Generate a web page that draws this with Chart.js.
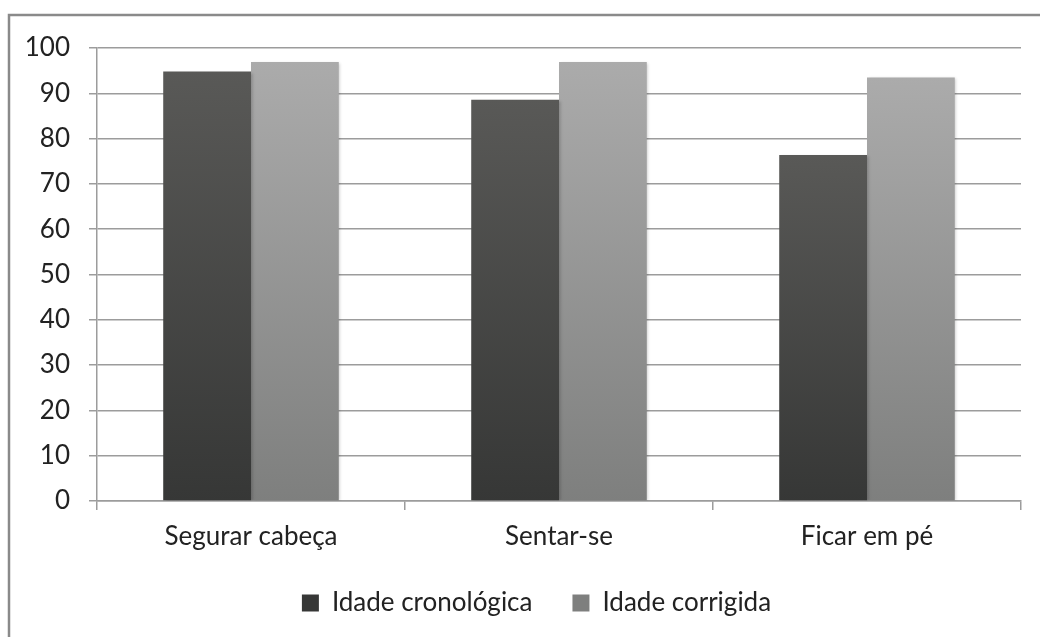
<!DOCTYPE html>
<html>
<head>
<meta charset="utf-8">
<script src="https://cdn.jsdelivr.net/npm/chart.js@4/dist/chart.umd.min.js"></script>
<style>
html,body{margin:0;padding:0;background:#fff;}
#wrap{position:relative;width:1040px;height:637px;}
canvas{display:block;}
</style>
</head>
<body>
<div id="wrap"><canvas id="c" width="1040" height="637"></canvas></div>
<script>
const categories = ["Segurar cabeça", "Sentar-se", "Ficar em pé"];
const seriesNames = ["Idade cronológica", "Idade corrigida"];
const cronologica = [94.8, 88.6, 76.4];
const corrigida = [96.9, 96.9, 93.5];
const yTicks = [0, 10, 20, 30, 40, 50, 60, 70, 80, 90, 100];

const FONT = "Lato, 'Open Sans', sans-serif";
const TEXT = "#222222";
const GRID = "#9c9c9c";

function barGradient(topColor, bottomColor, mid) {
  return (ctx) => {
    const chart = ctx.chart;
    if (!chart.chartArea || ctx.raw === undefined || ctx.type !== 'data') return mid;
    const y = chart.scales.y;
    const top = y.getPixelForValue(ctx.raw);
    const bottom = y.getPixelForValue(0);
    const g = chart.ctx.createLinearGradient(0, top, 0, bottom);
    g.addColorStop(0, topColor);
    g.addColorStop(1, bottomColor);
    return g;
  };
}

const framePlugin = {
  id: 'frame',
  beforeDraw(chart) {
    const c = chart.ctx;
    c.save();
    c.fillStyle = '#fff';
    c.fillRect(0, 0, chart.width, chart.height);
    c.strokeStyle = '#8a8a8a';
    c.lineWidth = 2.5;
    c.strokeRect(9, 15, 1200, 800);
    c.restore();
  }
};

const legendShift = {
  id: 'legendShift',
  afterLayout(chart) {
    if (chart.legend) {
      chart.legend.left += 26;
      chart.legend.right += 26;
    }
  }
};

const shadowPlugin = {
  id: 'barShadow',
  beforeDatasetsDraw(chart) {
    const c = chart.ctx;
    c.save();
    c.shadowColor = 'rgba(0,0,0,0.22)';
    c.shadowBlur = 3;
    c.shadowOffsetX = 1.5;
    c.shadowOffsetY = 1;
  },
  afterDatasetsDraw(chart) {
    chart.ctx.restore();
  }
};

new Chart(document.getElementById('c'), {
  type: 'bar',
  data: {
    labels: categories,
    datasets: [
      {
        label: seriesNames[0],
        data: cronologica,
        backgroundColor: barGradient('#595957', '#363736', '#484848'),
        borderWidth: 0,
        categoryPercentage: 0.57,
        barPercentage: 1.0
      },
      {
        label: seriesNames[1],
        data: corrigida,
        backgroundColor: barGradient('#ababab', '#7e7f7e', '#989898'),
        borderWidth: 0,
        categoryPercentage: 0.57,
        barPercentage: 1.0
      }
    ]
  },
  options: {
    responsive: false,
    animation: false,
    devicePixelRatio: 1,
    layout: { padding: { left: 0, right: 19, top: 48, bottom: 11 } },
    plugins: {
      title: { display: false },
      tooltip: { enabled: false },
      legend: {
        position: 'bottom',
        labels: {
          font: { family: FONT, size: 26 },
          color: TEXT,
          boxWidth: 17,
          boxHeight: 17,
          padding: 40
        }
      }
    },
    scales: {
      x: {
        grid: {
          offset: true,
          drawOnChartArea: false,
          drawTicks: true,
          tickLength: 9,
          color: GRID,
          lineWidth: 1.5
        },
        border: { display: true, color: GRID, width: 1.5 },
        ticks: {
          font: { family: FONT, size: 26 },
          color: TEXT,
          padding: 11,
          maxRotation: 0
        },
        afterFit(s) { s.height = 49; }
      },
      y: {
        min: 0,
        max: 100,
        afterBuildTicks(s) { s.ticks = yTicks.map(v => ({ value: v })); },
        grid: {
          color: GRID,
          lineWidth: 1.5,
          tickLength: 8,
          drawTicks: true
        },
        border: { display: true, color: GRID, width: 1.5 },
        ticks: {
          font: { family: FONT, size: 26 },
          color: TEXT,
          padding: 19
        },
        afterFit(s) { s.width = 97; }
      }
    }
  },
  plugins: [framePlugin, legendShift, shadowPlugin]
});
</script>
</body>
</html>
